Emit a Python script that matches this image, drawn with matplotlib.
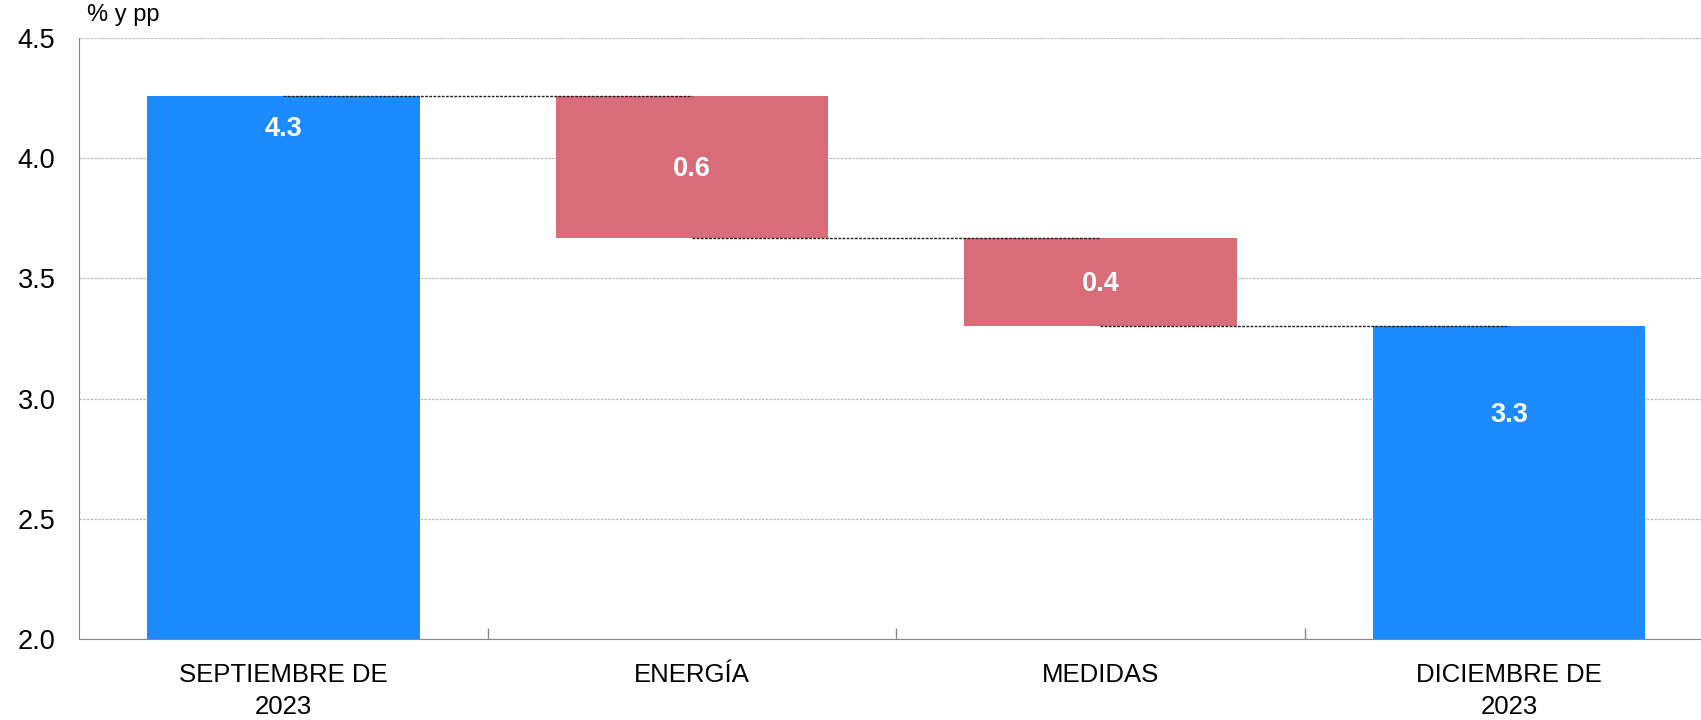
import numpy as np
import matplotlib.pyplot as plt

plt.rcParams['font.family'] = ['Liberation Sans', 'DejaVu Sans']

# data
categories = ['SEPTIEMBRE DE\n2023', 'ENERGÍA', 'MEDIDAS', 'DICIEMBRE DE\n2023']
start_value = 4.26
changes = [-0.59, -0.37]
end_value = 3.30
labels = ['4.3', '0.6', '0.4', '3.3']
kinds = ['total', 'change', 'change', 'total']

blue = '#1c8bff'
red = '#d96c79'

# waterfall bottoms / tops
levels = [start_value]
for c in changes:
    levels.append(levels[-1] + c)
bottoms = [0, levels[1], levels[2], 0]
tops = [start_value, levels[0], levels[1], end_value]
heights = [t - b for t, b in zip(tops, bottoms)]
colors = [blue if k == 'total' else red for k in kinds]

fig = plt.figure(figsize=(17.01, 7.2), dpi=100)
ax = fig.add_axes([79 / 1701, 1 - 639 / 720, 1 - 79 / 1701, (639 - 38) / 720])

x = np.arange(len(categories))
ax.bar(x, heights, bottom=bottoms, width=0.667, color=colors, zorder=2)

# connectors between bar centres
conn = [start_value, levels[1], levels[2]]
for i, lv in enumerate(conn):
    ax.plot([x[i], x[i + 1]], [lv, lv], color='#222222', lw=1.0,
            ls=(0, (2, 1)), zorder=3)

# value labels
label_y = [tops[0] - 0.14, (tops[1] + bottoms[1]) / 2 - 0.01,
           (tops[2] + bottoms[2]) / 2 - 0.01, tops[3] - 0.37]
for xi, yi, t in zip(x, label_y, labels):
    ax.text(xi, yi, t, ha='center', va='center', color='white',
            fontsize=19.5, fontweight='bold', zorder=4)

ax.set_ylim(2.0, 4.5)
ax.set_xlim(-0.5, 3.47)
ax.set_yticks([2.0, 2.5, 3.0, 3.5, 4.0, 4.5])
ax.set_yticklabels(['2.0', '2.5', '3.0', '3.5', '4.0', '4.5'])
ax.yaxis.grid(True, color='#bbbbbb', ls=(0, (2, 1)), lw=0.9, zorder=0)
ax.tick_params(axis='y', length=0, pad=17, labelsize=19.5)

ax.set_xticks(x)
ax.set_xticklabels(categories, fontsize=18.5, linespacing=1.45)
ax.set_xticks([0.5, 1.5, 2.5], minor=True)
ax.tick_params(axis='x', which='major', length=0, pad=17)
ax.tick_params(axis='x', which='minor', direction='in', length=8,
               color='#888888', width=1)

for s in ['top', 'right']:
    ax.spines[s].set_visible(False)
ax.spines['left'].set_color('#888888')
ax.spines['bottom'].set_color('#888888')

ax.text(8 / 1622, 1.02, '% y pp', transform=ax.transAxes, fontsize=17,
        ha='left', va='bottom')

plt.savefig('out.png', dpi=100)
